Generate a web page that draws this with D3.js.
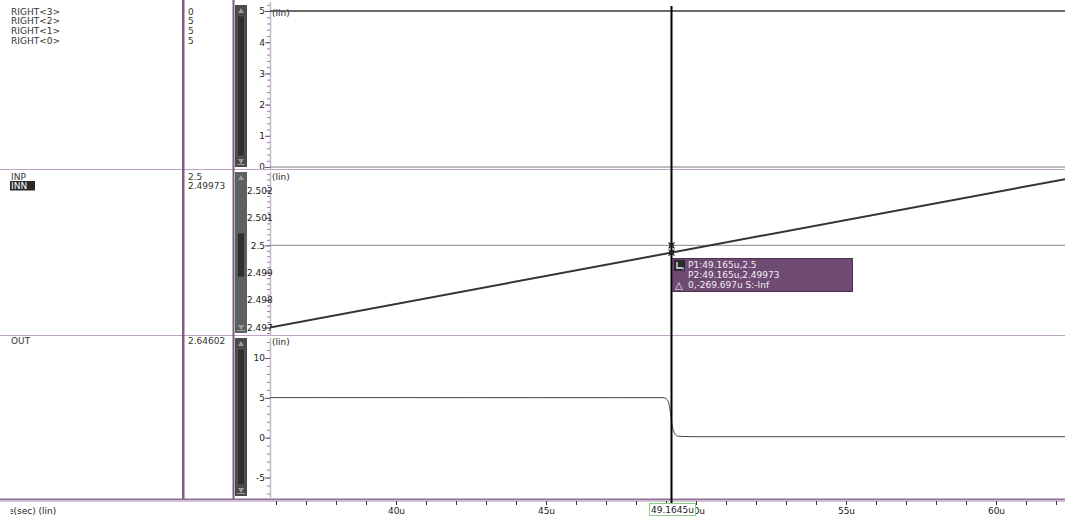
<!DOCTYPE html>
<html>
<head>
<meta charset="utf-8">
<script src="https://cdn.jsdelivr.net/npm/d3@7"></script>
<style>
  body { margin: 0; background: #fff; }
  svg { display: block; font-family: "DejaVu Sans", sans-serif; }
</style>
</head>
<body>
<svg id="chart" width="1065" height="522"></svg>
<script>
// ---- signal data (time in microseconds) ----
const busNames = ["RIGHT<3>", "RIGHT<2>", "RIGHT<1>", "RIGHT<0>"];
const busValues = [0, 5, 5, 5];
const busTime = [35, 63];

const diffNames = ["INP", "INN"];
const diffCursorValues = ["2.5", "2.49973"];
const inpTime = [35, 63];
const inpValues = [2.5, 2.5];
const innTime = [35, 63];
const innValues = [2.496838, 2.502555];

const outNames = ["OUT"];
const outCursorValues = ["2.64602"];
const outTime = [35, 48.9, 49.0, 49.08, 49.13, 49.1645, 49.2, 49.25, 49.3, 49.4, 50, 63];
const outValues = [5.03, 5.02, 4.9, 4.5, 3.6, 2.64602, 1.6, 0.9, 0.45, 0.18, 0.12, 0.12];

const cursorTime = 49.1645;
const cursorLabel = "49.1645u";
const tooltipLines = ["P1:49.165u,2.5", "P2:49.165u,2.49973", "0,-269.697u S:-Inf"];

const xMajorTicks = [40, 45, 50, 55, 60];
const busTicks = [0, 1, 2, 3, 4, 5];
const diffTicks = [2.497, 2.498, 2.499, 2.5, 2.501, 2.502];
const outTicks = [-5, 0, 5, 10];

// ---- layout ----
const W = 1065, H = 522;
const plotLeft = 270, plotRight = 1065;
const svg = d3.select("#chart");
const purpleDark = "#7d5c84", purpleLight = "#bda4c2", axisPurple = "#c9b6cd";

const x = d3.scaleLinear().domain([35.8, 62.3]).range([plotLeft, plotRight]);

const panels = [
  { top: 0, bottom: 169, y: d3.scaleLinear().domain([0, 5]).range([167, 11]),
    major: busTicks, minorStep: 0.2, fmt: d => String(d), titleY: 16 },
  { top: 170, bottom: 335, y: d3.scaleLinear().domain([2.497, 2.502]).range([327.5, 190.5]),
    major: diffTicks, minorStep: 0.0002, fmt: d => d3.format("~g")(d), titleY: 179.5 },
  { top: 336, bottom: 498, y: d3.scaleLinear().domain([-5, 10]).range([477.5, 358]),
    major: outTicks, minorStep: 1, fmt: d => String(d), titleY: 344.5 }
];

// clip region for traces
panels.forEach((p, i) => {
  svg.append("clipPath").attr("id", "clip" + i)
    .append("rect").attr("x", plotLeft).attr("y", p.top + 1)
    .attr("width", plotRight - plotLeft).attr("height", p.bottom - p.top - 1);
});

// ---- axes per panel ----
panels.forEach((p, i) => {
  const a = p.y.invert(p.bottom), b = p.y.invert(p.top);
  const lo = Math.min(a, b), hi = Math.max(a, b);
  const minor = d3.range(Math.ceil(lo / p.minorStep), Math.floor(hi / p.minorStep) + 1)
    .map(k => +(k * p.minorStep).toFixed(6));

  svg.append("line").attr("x1", plotLeft + 0.5).attr("x2", plotLeft + 0.5)
    .attr("y1", p.top + 2).attr("y2", p.bottom)
    .attr("stroke", axisPurple).attr("stroke-width", 1.5);

  const gMinor = svg.append("g").attr("transform", `translate(${plotLeft},0)`)
    .call(d3.axisLeft(p.y).tickValues(minor).tickSize(3).tickFormat(""));
  gMinor.select(".domain").remove();
  gMinor.selectAll(".tick line").attr("stroke", "#9c82a2");

  const gMajor = svg.append("g").attr("transform", `translate(${plotLeft},0)`)
    .call(d3.axisLeft(p.y).tickValues(p.major).tickSize(5).tickPadding(0).tickFormat(p.fmt));
  gMajor.select(".domain").remove();
  gMajor.selectAll(".tick line").attr("stroke", "#6d5572");
  gMajor.selectAll(".tick text").attr("font-size", 9).attr("fill", "#222")
    .attr("font-family", "DejaVu Sans");
  // labels that would run into the scroll bar start at its edge instead
  gMajor.selectAll(".tick text").each(function () {
    const w = this.getComputedTextLength();
    if (plotLeft - 5 - w < 247) {
      d3.select(this).attr("text-anchor", "start").attr("x", 247 - plotLeft);
    }
  });

  svg.append("text").attr("x", plotLeft + 2).attr("y", p.titleY)
    .attr("font-size", 9).attr("fill", "#222").text("(lin)");
});

// ---- traces ----
const line = (p) => d3.line().x(d => x(d[0])).y(d => p.y(d[1]));

// bus panel: one flat trace per bit
busValues.forEach((v) => {
  svg.append("path").attr("clip-path", "url(#clip0)")
    .attr("d", line(panels[0])(busTime.map(t => [t, v])))
    .attr("fill", "none").attr("stroke", v === 0 ? "#7a7a7a" : "#555").attr("stroke-width", 1);
});

svg.append("path").attr("clip-path", "url(#clip1)")
  .attr("d", line(panels[1])(d3.zip(inpTime, inpValues)))
  .attr("fill", "none").attr("stroke", "#8a8a8a").attr("stroke-width", 1);
svg.append("path").attr("clip-path", "url(#clip1)")
  .attr("d", line(panels[1])(d3.zip(innTime, innValues)))
  .attr("fill", "none").attr("stroke", "#333").attr("stroke-width", 2);

svg.append("path").attr("clip-path", "url(#clip2)")
  .attr("d", line(panels[2]).curve(d3.curveMonotoneX)(d3.zip(outTime, outValues)))
  .attr("fill", "none").attr("stroke", "#444").attr("stroke-width", 1);

// ---- panel separators ----
[169.5, 335.5].forEach(yy => {
  svg.append("line").attr("x1", 0).attr("x2", W).attr("y1", yy).attr("y2", yy)
    .attr("stroke", purpleLight).attr("stroke-width", 1);
});

// ---- signal name / value columns ----
const nameRows = [
  { names: busNames, values: busValues.map(String), y0: 14.5, step: 9.7 },
  { names: diffNames, values: diffCursorValues, y0: 180, step: 9 },
  { names: outNames, values: outCursorValues, y0: 343.5, step: 9 }
];
nameRows.forEach((r) => {
  r.names.forEach((n, i) => {
    const yy = r.y0 + i * r.step;
    if (n === "INN") {
      svg.append("rect").attr("x", 10).attr("y", yy - 8).attr("width", 25).attr("height", 9.5)
        .attr("fill", "#2a2a2a");
    }
    svg.append("text").attr("x", 11).attr("y", yy).attr("font-size", 9)
      .attr("fill", n === "INN" ? "#fff" : "#333").text(n);
    svg.append("text").attr("x", 188).attr("y", yy).attr("font-size", 9)
      .attr("fill", "#333").text(r.values[i]);
  });
});

// vertical column dividers
svg.append("rect").attr("x", 182).attr("y", 0).attr("width", 2.5).attr("height", 500).attr("fill", purpleDark);
svg.append("rect").attr("x", 232.5).attr("y", 0).attr("width", 2).attr("height", 500).attr("fill", purpleDark);

// ---- per-panel scroll bars ----
const sbX = 235, sbW = 12;
panels.forEach((p, i) => {
  const top = p.top + (i === 0 ? 5 : 2), bot = p.bottom - 2;
  svg.append("rect").attr("x", sbX).attr("y", top).attr("width", sbW).attr("height", bot - top)
    .attr("fill", i === 1 ? "#5d6060" : "#4a4a4a");
  svg.append("path").attr("d", `M${sbX + 3},${top + 8}L${sbX + 6},${top + 3}L${sbX + 9},${top + 8}Z`)
    .attr("fill", "#9a9a9a");
  svg.append("path").attr("d", `M${sbX + 3},${bot - 8}L${sbX + 6},${bot - 3}L${sbX + 9},${bot - 8}Z`)
    .attr("fill", "#9a9a9a");
  svg.append("line").attr("x1", sbX + 2).attr("x2", sbX + 10).attr("y1", bot - 2.5).attr("y2", bot - 2.5)
    .attr("stroke", "#9a9a9a");
  const thTop = i === 1 ? 233 : top + 11, thBot = i === 1 ? 277 : bot - 11;
  svg.append("rect").attr("x", sbX + 2.5).attr("y", thTop).attr("width", sbW - 5).attr("height", thBot - thTop)
    .attr("fill", "#2f2f2f").attr("stroke", "#6a6a6a").attr("stroke-width", 0.5);
});

// ---- time axis ----
svg.append("rect").attr("x", 0).attr("y", 498.5).attr("width", W).attr("height", 2).attr("fill", "#8d6f93");
svg.append("rect").attr("x", 0).attr("y", 500.5).attr("width", W).attr("height", 1.5).attr("fill", "#d4c6d7");

const xMinor = d3.range(36, 63, 1);
const gxMinor = svg.append("g").attr("transform", "translate(0,501)")
  .call(d3.axisBottom(x).tickValues(xMinor).tickSize(4).tickFormat(""));
gxMinor.select(".domain").remove();
gxMinor.selectAll(".tick line").attr("stroke", "#333");

const gx = svg.append("g").attr("transform", "translate(0,501)")
  .call(d3.axisBottom(x).tickValues(xMajorTicks).tickSize(4).tickPadding(3).tickFormat(d => d + "u"));
gx.select(".domain").remove();
gx.selectAll(".tick line").attr("stroke", "#333");
gx.selectAll(".tick text").attr("font-size", 9).attr("fill", "#222").attr("font-family", "DejaVu Sans");

// axis title in the name column; the column clips it at its left inset
svg.append("clipPath").attr("id", "titleClip")
  .append("rect").attr("x", 10.5).attr("y", 502).attr("width", 170).attr("height", 20);
const probe = svg.append("text").attr("font-size", 9).text("time");
const lead = probe.node().getComputedTextLength();
probe.remove();
svg.append("text").attr("clip-path", "url(#titleClip)")
  .attr("y", 514).attr("font-size", 9).attr("fill", "#222")
  .attr("x", 13.5 - lead).text("time(sec) (lin)");

// ---- cursor ----
const cx = Math.round(x(cursorTime)) + 0.5;
svg.append("line").attr("x1", cx).attr("x2", cx).attr("y1", 6).attr("y2", 503)
  .attr("stroke", "#000").attr("stroke-width", 2);

// cursor markers on INP / INN
[inpValues[0], +diffCursorValues[1]].forEach(v => {
  const yy = panels[1].y(v);
  svg.append("path")
    .attr("d", `M${cx - 3},${yy - 3}L${cx + 3},${yy + 3}M${cx + 3},${yy - 3}L${cx - 3},${yy + 3}`)
    .attr("stroke", "#222").attr("stroke-width", 1.2);
  svg.append("circle").attr("cx", cx).attr("cy", yy).attr("r", 2.2)
    .attr("fill", "none").attr("stroke", "#222").attr("stroke-width", 0.8);
});

// cursor time badge
const badge = svg.append("g");
badge.append("rect").attr("x", 649.5).attr("y", 503.5).attr("width", 46).attr("height", 12)
  .attr("fill", "#fff").attr("stroke", "#8ccf8c");
badge.append("text").attr("x", 672.5).attr("y", 513).attr("text-anchor", "middle")
  .attr("font-size", 9).attr("fill", "#222").text(cursorLabel);

// delta readout
const tip = svg.append("g");
tip.append("rect").attr("x", 672.5).attr("y", 258.5).attr("width", 180).attr("height", 33)
  .attr("fill", "#6f4b73").attr("stroke", "#4a3350");
tip.append("rect").attr("x", 674).attr("y", 260).attr("width", 11).attr("height", 11).attr("fill", "#2b2b2b");
tip.append("path").attr("d", "M677,262V268H683").attr("fill", "none").attr("stroke", "#eee").attr("stroke-width", 1.3);
tip.append("circle").attr("cx", 683).attr("cy", 268.5).attr("r", 1.2).attr("fill", "#6fa8dc");
tip.append("text").attr("x", 675).attr("y", 289).attr("font-size", 10).attr("fill", "#eee").text("△");
tooltipLines.forEach((s, i) => {
  tip.append("text").attr("x", 688).attr("y", 268 + i * 10).attr("font-size", 9)
    .attr("fill", "#f2eef2").text(s);
});
</script>
</body>
</html>
